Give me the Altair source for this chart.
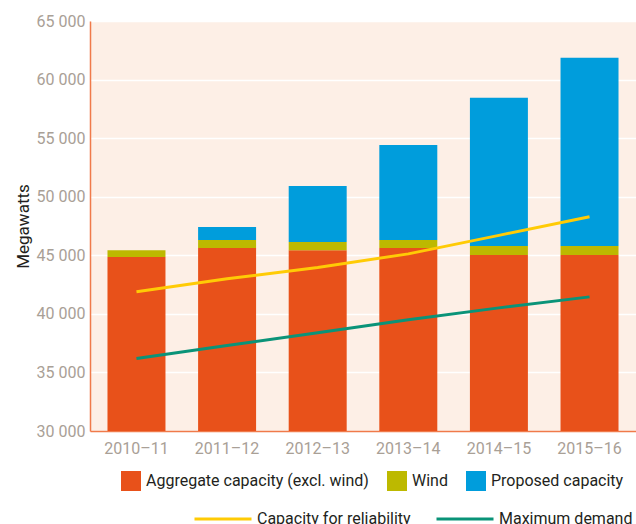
import altair as alt
import pandas as pd

# Financial years on the x axis
years = ["2010–11", "2011–12", "2012–13", "2013–14", "2014–15", "2015–16"]

# Stacked capacity components (MW)
aggregate = [44850, 45620, 45440, 45620, 45020, 45020]
wind = [590, 680, 690, 680, 770, 770]
proposed = [0, 1110, 4780, 8120, 12650, 16070]

# Reference lines (MW)
reliability = [41880, 43000, 43950, 45120, 46700, 48290]
max_demand = [36190, 37300, 38380, 39490, 40510, 41450]

bar_series = ["Aggregate capacity (excl. wind)", "Wind", "Proposed capacity"]
bar_colors = ["#E8511A", "#BDB900", "#009DDC"]
line_series = ["Capacity for reliability", "Maximum demand"]
line_colors = ["#FFCB05", "#0A9378"]

bars = pd.DataFrame(
    [
        {"year": y, "series": s, "order": i, "mw": v}
        for i, (s, vals) in enumerate(zip(bar_series, [aggregate, wind, proposed]))
        for y, v in zip(years, vals)
    ]
)
lines = pd.DataFrame(
    [
        {"year": y, "series": s, "mw": v}
        for s, vals in zip(line_series, [reliability, max_demand])
        for y, v in zip(years, vals)
    ]
)

FONT = "Roboto"
TEXT = "#231F20"
GREY = "#A9A096"
AXIS_ORANGE = "#F07A4A"

x_enc = alt.X(
    "year:N",
    sort=years,
    title=None,
    scale=alt.Scale(paddingInner=0.36, paddingOuter=0.193),
    axis=alt.Axis(
        labelAngle=0,
        labelFont=FONT,
        labelFontSize=16,
        labelColor=GREY,
        labelPadding=9,
        ticks=False,
        domainColor=AXIS_ORANGE,
        domainWidth=1.5,
        grid=False,
    ),
)

y_scale = alt.Scale(domain=[30000, 65000], nice=False, zero=False)
y_axis = alt.Axis(
    values=list(range(30000, 65001, 5000)),
    labelExpr="replace(format(datum.value, ','), ',', ' ')",
    labelFont=FONT,
    labelFontSize=16,
    labelColor=GREY,
    labelPadding=5,
    ticks=False,
    domainColor=AXIS_ORANGE,
    domainWidth=1.5,
    grid=True,
    gridColor="#FFFFFF",
    gridWidth=1.5,
    title="Megawatts",
    titleFont=FONT,
    titleFontSize=17,
    titleFontWeight="normal",
    titleColor=TEXT,
    titlePadding=4,
)

bar_layer = (
    alt.Chart(bars)
    .mark_bar(clip=True)
    .encode(
        x=x_enc,
        y=alt.Y("sum(mw):Q", stack="zero", scale=y_scale, axis=y_axis),
        color=alt.Color(
            "series:N",
            scale=alt.Scale(domain=bar_series, range=bar_colors),
            legend=alt.Legend(
                orient="none",
                legendX=31,
                legendY=450,
                direction="horizontal",
                title=None,
                symbolType="square",
                symbolSize=400,
                symbolStrokeWidth=0,
                labelFont=FONT,
                labelFontSize=16,
                labelColor=TEXT,
                labelOffset=5,
                labelLimit=400,
                columnPadding=18,
                padding=0,
            ),
        ),
        order=alt.Order("order:Q"),
    )
)

line_layer = (
    alt.Chart(lines)
    .mark_line(strokeWidth=3)
    .encode(
        x=x_enc,
        y=alt.Y("mw:Q", scale=y_scale),
        stroke=alt.Stroke(
            "series:N",
            scale=alt.Scale(domain=line_series, range=line_colors),
            legend=alt.Legend(
                orient="none",
                legendX=103,
                legendY=468,
                direction="horizontal",
                title=None,
                symbolType="stroke",
                symbolSize=3249,
                symbolStrokeWidth=3,
                labelFont=FONT,
                labelFontSize=16,
                labelColor=TEXT,
                labelOffset=4,
                labelLimit=400,
                columnPadding=19,
                padding=0,
            ),
        ),
    )
)

chart = (
    alt.layer(bar_layer, line_layer)
    .properties(
        width=546,
        height=410,
        autosize=alt.AutoSizeParams(type="none"),
        padding={"left": 90, "top": 21, "right": 0, "bottom": 93},
        background="#FFFFFF",
    )
    .configure_view(fill="#FDEFE6", strokeWidth=0)
)

chart.save("out.html", embed_options={"renderer": "svg", "actions": False})
